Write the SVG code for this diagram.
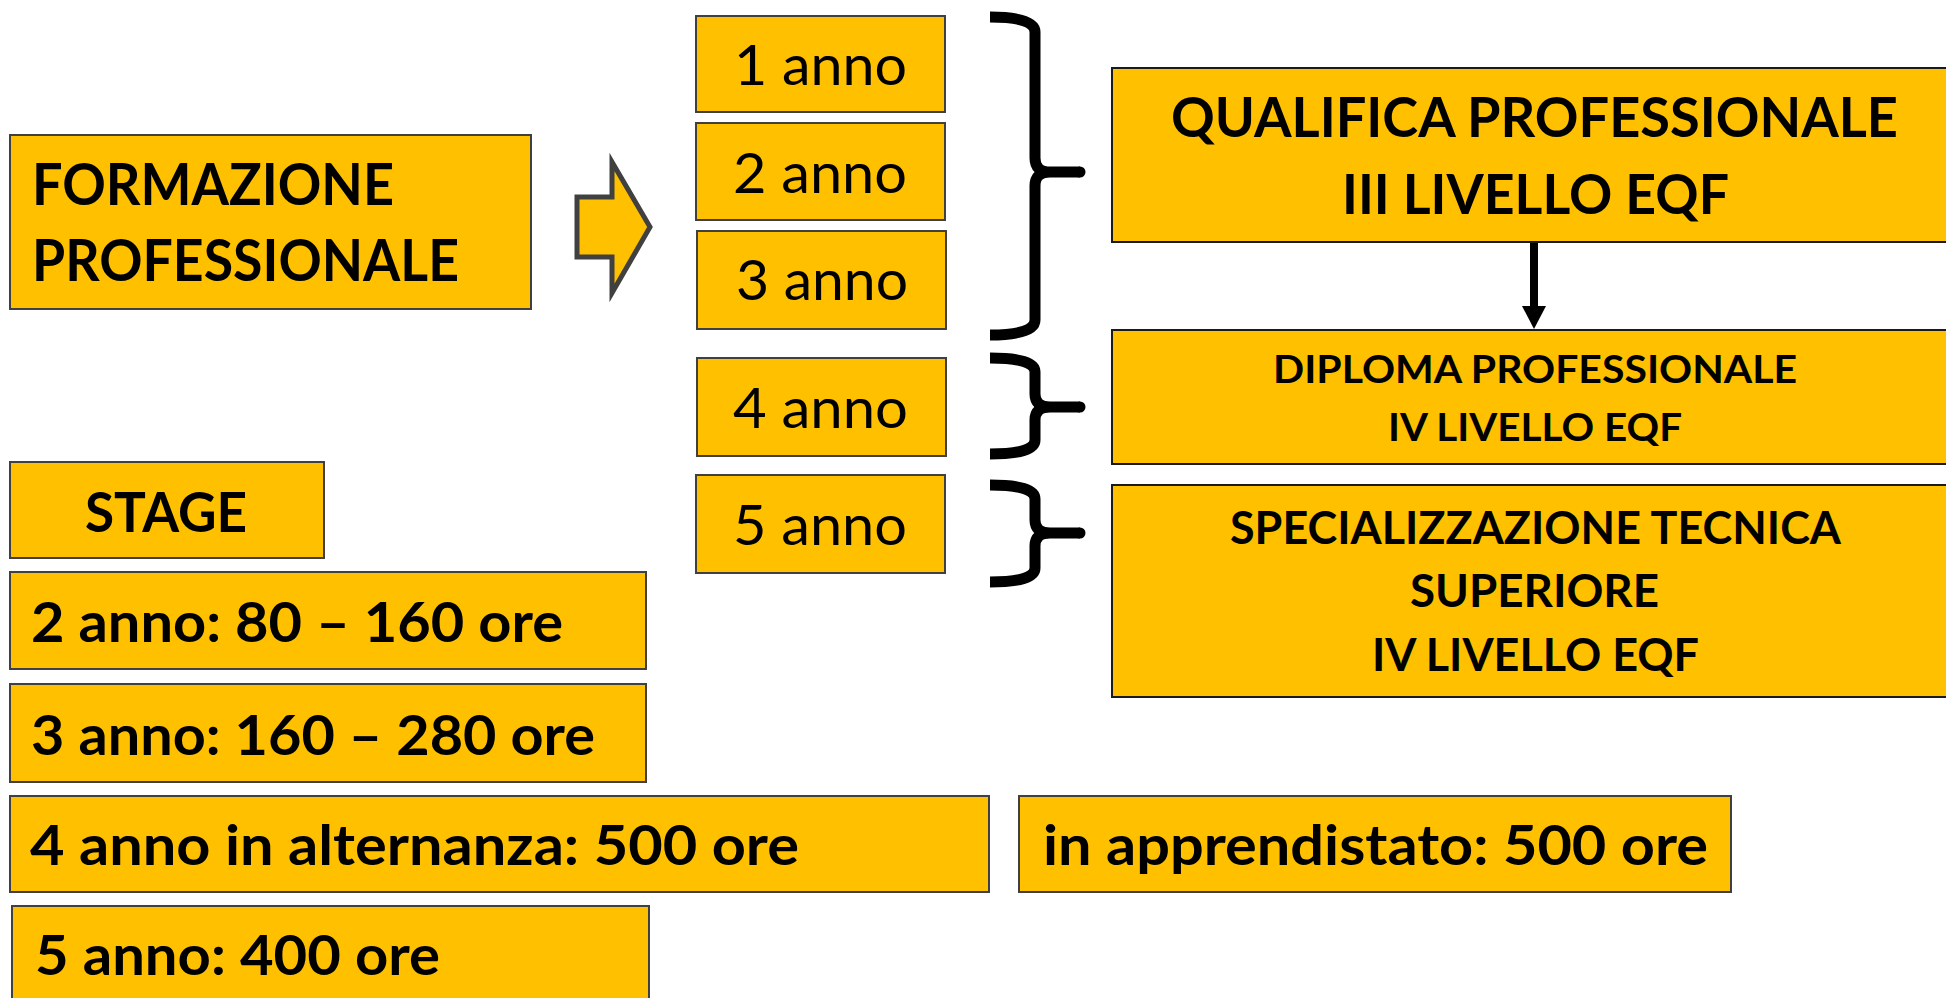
<svg xmlns="http://www.w3.org/2000/svg" width="1946" height="998" viewBox="0 0 1946 998">
<style>
.box{fill:#FFC000;stroke:#404040;stroke-width:2}
.rbox{fill:#FFC000;stroke:#1a1a1a;stroke-width:2}
.b{font-family:Lato,"Open Sans","Liberation Sans",sans-serif;font-weight:bold;fill:#000}
.r{font-family:Lato,"Open Sans","Liberation Sans",sans-serif;font-weight:normal;fill:#000}
.brace{fill:none;stroke:#000;stroke-width:11;stroke-linejoin:round}
</style>
<defs>
<marker id="ah" markerWidth="24" markerHeight="24" refX="12" refY="23" orient="auto" markerUnits="userSpaceOnUse" viewBox="0 0 24 24">
<path d="M0,0 L24,0 L12,23 Z" fill="#000" transform="rotate(-90 12 12)"/>
</marker>
</defs>
<rect width="1946" height="998" fill="#fff"/>

<g id="formazione">
<rect class="box" x="10" y="135" width="521" height="174"/>
<text class="b" x="32" y="205" font-size="57" textLength="362" lengthAdjust="spacingAndGlyphs">FORMAZIONE</text>
<text class="b" x="32" y="281" font-size="57" textLength="427" lengthAdjust="spacingAndGlyphs">PROFESSIONALE</text>
</g>

<g id="block-arrow">
<polygon points="577,197 612,197 612,162 650,227 612,293 612,257 577,257" fill="#FFC000" stroke="#404040" stroke-width="5"/>
</g>

<g id="anno1">
<rect class="box" x="696" y="16" width="249" height="96"/>
<text class="r" x="734" y="85" font-size="56" textLength="173" lengthAdjust="spacingAndGlyphs">1 anno</text>
</g>
<g id="anno2">
<rect class="box" x="696" y="123" width="249" height="97"/>
<text class="r" x="733" y="193" font-size="56" textLength="174" lengthAdjust="spacingAndGlyphs">2 anno</text>
</g>
<g id="anno3">
<rect class="box" x="697" y="231" width="249" height="98"/>
<text class="r" x="736" y="300" font-size="56" textLength="172" lengthAdjust="spacingAndGlyphs">3 anno</text>
</g>
<g id="anno4">
<rect class="box" x="697" y="358" width="249" height="98"/>
<text class="r" x="733" y="428" font-size="56" textLength="175" lengthAdjust="spacingAndGlyphs">4 anno</text>
</g>
<g id="anno5">
<rect class="box" x="696" y="475" width="249" height="98"/>
<text class="r" x="733" y="545" font-size="56" textLength="174" lengthAdjust="spacingAndGlyphs">5 anno</text>
</g>

<g id="qualifica">
<rect class="rbox" x="1112" y="68" width="860" height="174"/>
<text class="b" x="1171" y="137" font-size="55" textLength="727" lengthAdjust="spacingAndGlyphs">QUALIFICA PROFESSIONALE</text>
<text class="b" x="1342" y="214" font-size="55" textLength="387" lengthAdjust="spacingAndGlyphs">III LIVELLO EQF</text>
</g>

<g id="diploma">
<rect class="rbox" x="1112" y="330" width="860" height="134"/>
<text class="b" x="1273" y="383" font-size="38" textLength="524" lengthAdjust="spacingAndGlyphs">DIPLOMA PROFESSIONALE</text>
<text class="b" x="1388" y="441" font-size="38" textLength="294" lengthAdjust="spacingAndGlyphs">IV LIVELLO EQF</text>
</g>

<g id="specializzazione">
<rect class="rbox" x="1112" y="485" width="860" height="212"/>
<text class="b" x="1230" y="544" font-size="45" textLength="611" lengthAdjust="spacingAndGlyphs">SPECIALIZZAZIONE TECNICA</text>
<text class="b" x="1410" y="607" font-size="45" textLength="249" lengthAdjust="spacingAndGlyphs">SUPERIORE</text>
<text class="b" x="1372" y="671" font-size="45" textLength="327" lengthAdjust="spacingAndGlyphs">IV LIVELLO EQF</text>
</g>

<g id="stage">
<rect class="box" x="10" y="462" width="314" height="96"/>
<text class="b" x="85" y="532" font-size="56" textLength="162" lengthAdjust="spacingAndGlyphs">STAGE</text>
</g>
<g id="stage2">
<rect class="box" x="10" y="572" width="636" height="97"/>
<text class="b" x="31" y="642" font-size="56" textLength="532" lengthAdjust="spacingAndGlyphs">2 anno: 80 – 160 ore</text>
</g>
<g id="stage3">
<rect class="box" x="10" y="684" width="636" height="98"/>
<text class="b" x="31" y="755" font-size="56" textLength="564" lengthAdjust="spacingAndGlyphs">3 anno: 160 – 280 ore</text>
</g>
<g id="stage4">
<rect class="box" x="10" y="796" width="979" height="96"/>
<text class="b" x="30" y="865" font-size="56" textLength="769" lengthAdjust="spacingAndGlyphs">4 anno in alternanza: 500 ore</text>
</g>
<g id="apprendistato">
<rect class="box" x="1019" y="796" width="712" height="96"/>
<text class="b" x="1043" y="865" font-size="56" textLength="665" lengthAdjust="spacingAndGlyphs">in apprendistato: 500 ore</text>
</g>
<g id="stage5">
<rect class="box" x="12" y="906" width="637" height="110"/>
<text class="b" x="35" y="975" font-size="56" textLength="405" lengthAdjust="spacingAndGlyphs">5 anno: 400 ore</text>
</g>

<g id="connectors">
<path class="brace" d="M990,17 Q1035,17 1035,32 L1035,158 Q1035,172 1050,172 L1080,172 M1050,172 Q1035,172 1035,186 L1035,320 Q1035,335 990,335"/>
<circle cx="1080" cy="172" r="5.5"/>
<path class="brace" d="M990,358 Q1035,358 1035,372 L1035,394 Q1035,407 1050,407 L1080,407 M1050,407 Q1035,407 1035,420 L1035,440 Q1035,454 990,454"/>
<circle cx="1080" cy="407" r="5.5"/>
<path class="brace" d="M990,485 Q1035,485 1035,499 L1035,520 Q1035,533 1050,533 L1080,533 M1050,533 Q1035,533 1035,546 L1035,568 Q1035,582 990,582"/>
<circle cx="1080" cy="533" r="5.5"/>
<line x1="1534" y1="243" x2="1534" y2="308" stroke="#000" stroke-width="8"/>
<polygon points="1522,306 1546,306 1534,329" fill="#000"/>
</g>
</svg>
